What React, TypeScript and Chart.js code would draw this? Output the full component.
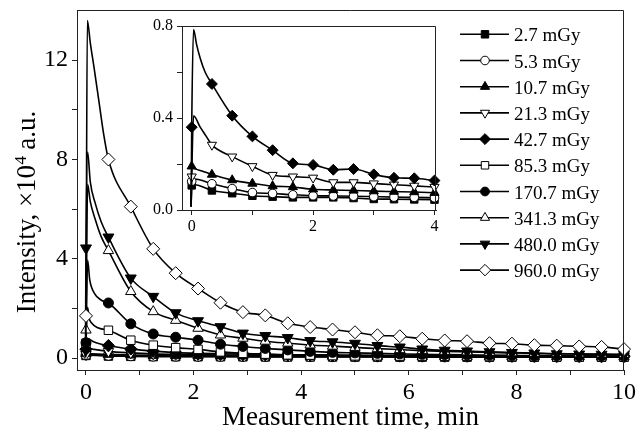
import React, { useEffect, useRef } from 'react';
import { Chart, registerables } from 'chart.js';
import { drawPoint } from 'chart.js/helpers';

Chart.register(...registerables);

const FONT = "'Liberation Serif', 'Times New Roman', serif";

// ---------- data ----------
const SERIES_LABELS = ['2.7 mGy', '5.3 mGy', '10.7 mGy', '21.3 mGy', '42.7 mGy', '85.3 mGy', '170.7 mGy', '341.3 mGy', '480.0 mGy', '960.0 mGy'];

// tick positions and the ones that carry a label
const MAIN_X_TICKS = [0, 1, 2, 3, 4, 5, 6, 7, 8, 9, 10];
const MAIN_X_LABELS = [0, 2, 4, 6, 8, 10];
const MAIN_Y_TICKS = [0, 2, 4, 6, 8, 10, 12];
const MAIN_Y_LABELS = [0, 4, 8, 12];
const INSET_X_TICKS = [0, 1, 2, 3, 4];
const INSET_X_LABELS = [0, 2, 4];
const INSET_Y_TICKS = [0, 0.2, 0.4, 0.6, 0.8];
const INSET_Y_LABELS = [0, 0.4, 0.8];

// marker times of the main panel (min)
const MAIN_TIMES = [0, 0.417, 0.833, 1.25, 1.667, 2.083, 2.5, 2.917, 3.333, 3.75, 4.167, 4.583, 5, 5.417, 5.833, 6.25, 6.667, 7.083, 7.5, 7.917, 8.333, 8.75, 9.167, 9.583, 10];

const main2_7 = [0.107, 0.083, 0.07, 0.06, 0.057, 0.055, 0.054, 0.052, 0.048, 0.047, 0.046, 0.045, 0.044, 0.043, 0.042, 0.041, 0.04, 0.04, 0.039, 0.038, 0.038, 0.037, 0.036, 0.036, 0.035];
const main5_3 = [0.125, 0.11, 0.09, 0.075, 0.07, 0.065, 0.062, 0.06, 0.058, 0.056, 0.055, 0.053, 0.052, 0.05, 0.05, 0.048, 0.047, 0.046, 0.045, 0.045, 0.044, 0.043, 0.042, 0.042, 0.04];
const main10_7 = [0.19, 0.15, 0.125, 0.11, 0.1, 0.095, 0.088, 0.085, 0.082, 0.08, 0.077, 0.075, 0.072, 0.07, 0.068, 0.066, 0.064, 0.062, 0.06, 0.06, 0.058, 0.056, 0.055, 0.054, 0.053];
const main21_3 = [0.145, 0.27, 0.21, 0.17, 0.15, 0.142, 0.125, 0.12, 0.115, 0.11, 0.1, 0.1, 0.095, 0.09, 0.09, 0.085, 0.08, 0.08, 0.075, 0.075, 0.07, 0.07, 0.07, 0.065, 0.065];
const main42_7 = [0.36, 0.5, 0.37, 0.28, 0.22, 0.19, 0.175, 0.16, 0.145, 0.135, 0.13, 0.125, 0.12, 0.115, 0.11, 0.105, 0.1, 0.1, 0.095, 0.09, 0.09, 0.085, 0.085, 0.08, 0.08];
const main85_3 = [0.6, 1.12, 0.72, 0.52, 0.42, 0.35, 0.25, 0.19, 0.16, 0.13, 0.12, 0.1, 0.09, 0.09, 0.08, 0.08, 0.07, 0.07, 0.06, 0.06, 0.06, 0.05, 0.05, 0.05, 0.05];
const main170_7 = [0.62, 2.22, 1.38, 0.97, 0.84, 0.72, 0.56, 0.47, 0.39, 0.33, 0.27, 0.23, 0.21, 0.19, 0.17, 0.15, 0.14, 0.13, 0.12, 0.11, 0.1, 0.1, 0.09, 0.09, 0.08];
const main341_3 = [1.13, 4.33, 2.68, 1.87, 1.52, 1.2, 0.93, 0.8, 0.68, 0.6, 0.53, 0.48, 0.43, 0.38, 0.34, 0.3, 0.27, 0.25, 0.23, 0.21, 0.19, 0.18, 0.17, 0.16, 0.15];
const main480 = [4.43, 4.87, 3.22, 2.48, 1.82, 1.5, 1.26, 1.0, 0.9, 0.82, 0.7, 0.65, 0.59, 0.5, 0.44, 0.36, 0.31, 0.28, 0.25, 0.22, 0.2, 0.17, 0.16, 0.15, 0.14];
const main960 = [1.7, 8.0, 6.1, 4.4, 3.42, 2.8, 2.23, 1.85, 1.72, 1.4, 1.25, 1.15, 1.04, 0.92, 0.88, 0.78, 0.71, 0.68, 0.6, 0.58, 0.52, 0.5, 0.47, 0.45, 0.36];

// readings of the curves between markers (rise and early decay), [t, value]
const rise2_7 = [[-0.01, 0.02], [0.04, 0.115]];
const rise5_3 = [[-0.01, 0.02], [0.04, 0.14]];
const rise10_7 = [[-0.01, 0.02], [0.04, 0.18]];
const rise21_3 = [[-0.01, 0.02], [0.03, 0.41], [0.15, 0.35]];
const rise42_7 = [[-0.01, 0.02], [0.03, 0.78], [0.14, 0.66], [0.25, 0.58]];
const rise85_3 = [[-0.01, 0.05], [0.03, 2.05], [0.06, 1.6], [0.1, 1.42], [0.22, 1.22]];
const rise170_7 = [[-0.01, 0.05], [0.03, 3.95], [0.07, 3.15], [0.16, 2.6], [0.28, 2.34]];
const rise341_3 = [[-0.01, 0.1], [0.03, 7.0], [0.08, 6.3], [0.17, 5.6], [0.28, 4.9]];
const rise480 = [[-0.01, 0.1], [0.03, 8.3], [0.08, 7.1], [0.17, 6.25], [0.28, 5.5]];
const rise960 = [[-0.01, 0.1], [0.025, 13.6], [0.08, 12.7], [0.15, 11.7], [0.25, 10.2], [0.33, 9.0]];

// inset panel (marker times every 20 s)
const INSET_TIMES = [0, 0.333, 0.667, 1, 1.333, 1.667, 2, 2.333, 2.667, 3, 3.333, 3.667, 4];
const inset2_7 = [0.107, 0.085, 0.073, 0.062, 0.058, 0.055, 0.055, 0.055, 0.052, 0.048, 0.047, 0.046, 0.045];
const inset5_3 = [0.125, 0.114, 0.093, 0.076, 0.072, 0.066, 0.062, 0.061, 0.06, 0.058, 0.056, 0.055, 0.053];
const inset10_7 = [0.19, 0.154, 0.13, 0.115, 0.104, 0.1, 0.09, 0.087, 0.085, 0.082, 0.08, 0.078, 0.075];
const inset21_3 = [0.145, 0.283, 0.232, 0.19, 0.152, 0.145, 0.14, 0.12, 0.12, 0.115, 0.11, 0.105, 0.1];
const inset42_7 = [0.36, 0.548, 0.41, 0.32, 0.26, 0.203, 0.196, 0.175, 0.178, 0.155, 0.14, 0.138, 0.128];
const insetRise2_7 = [[-0.01, 0.015], [0.05, 0.11]];
const insetRise5_3 = [[-0.01, 0.015], [0.05, 0.135]];
const insetRise10_7 = [[-0.01, 0.015], [0.05, 0.18], [0.17, 0.17]];
const insetRise21_3 = [[-0.01, 0.015], [0.03, 0.41], [0.14, 0.36], [0.24, 0.32]];
const insetRise42_7 = [[-0.01, 0.015], [0.03, 0.785], [0.08, 0.72], [0.14, 0.66], [0.22, 0.6]];

const MAIN_VALUES = [main2_7, main5_3, main10_7, main21_3, main42_7, main85_3, main170_7, main341_3, main480, main960];
const MAIN_RISES = [rise2_7, rise5_3, rise10_7, rise21_3, rise42_7, rise85_3, rise170_7, rise341_3, rise480, rise960];
const INSET_VALUES = [inset2_7, inset5_3, inset10_7, inset21_3, inset42_7];
const INSET_RISES = [insetRise2_7, insetRise5_3, insetRise10_7, insetRise21_3, insetRise42_7];

// ---------- styles ----------
const MARKERS = [
  { style: 'rect', filled: true, rotation: 0, size: 6 },
  { style: 'circle', filled: false, rotation: 0, size: 4.9 },
  { style: 'triangle', filled: true, rotation: 0, size: 6 },
  { style: 'triangle', filled: false, rotation: 180, size: 6 },
  { style: 'rectRot', filled: true, rotation: 0, size: 6.2 },
  { style: 'rect', filled: false, rotation: 0, size: 6 },
  { style: 'circle', filled: true, rotation: 0, size: 5 },
  { style: 'triangle', filled: false, rotation: 0, size: 6 },
  { style: 'triangle', filled: true, rotation: 180, size: 6.3 },
  { style: 'rectRot', filled: false, rotation: 0, size: 6.5 },
];
const AXIS_COLOR = '#222';
const LINE_WIDTH = 1.6;

function buildPoints(times: number[], values: number[], extra: number[][]) {
  const pts: any[] = times.map((t, i) => ({ x: t, y: values[i], m: 1 }));
  extra.forEach(([x, y]) => pts.push({ x, y, m: 0 }));
  pts.sort((a, b) => a.x - b.x);
  return pts;
}

function makeDatasets(times: number[], values: number[][], rises: number[][][], scale: number) {
  return values.map((vals, i) => {
    const mk = MARKERS[i];
    const r = mk.size * scale;
    return {
      label: SERIES_LABELS[i],
      data: buildPoints(times, vals, rises[i]),
      order: values.length - i,
      borderColor: '#000',
      borderWidth: LINE_WIDTH,
      backgroundColor: mk.filled ? '#000' : '#fff',
      pointStyle: mk.style,
      pointRotation: mk.rotation,
      pointRadius: (c: any) => (c.raw && c.raw.m ? r : 0),
      pointHoverRadius: (c: any) => (c.raw && c.raw.m ? r : 0),
      pointBackgroundColor: mk.filled ? '#000' : '#fff',
      pointBorderColor: '#000',
      pointBorderWidth: 1,
      cubicInterpolationMode: 'monotone',
      fill: false,
      clip: false,
    };
  });
}

const framePlugin = {
  id: 'frameLines',
  afterDraw(chart: any) {
    const { ctx, chartArea } = chart;
    const l = Math.round(chartArea.left);
    const r = Math.round(chartArea.right) - 0.5;
    const t = Math.round(chartArea.top) + 0.5;
    const b = Math.round(chartArea.bottom);
    ctx.save();
    ctx.strokeStyle = AXIS_COLOR;
    ctx.lineWidth = 1;
    ctx.beginPath();
    ctx.moveTo(l, t);
    ctx.lineTo(r, t);
    ctx.lineTo(r, b);
    ctx.stroke();
    ctx.restore();
  },
};

const LEGEND = { top: 34.3, step: 26.2, x1: 460, x2: 509, xm: 485, xt: 514, font: 19 };

const legendPlugin = {
  id: 'doseLegend',
  afterDraw(chart: any) {
    const { ctx } = chart;
    ctx.save();
    SERIES_LABELS.forEach((label, i) => {
      const y = LEGEND.top + i * LEGEND.step;
      ctx.strokeStyle = '#000';
      ctx.lineWidth = LINE_WIDTH;
      ctx.beginPath();
      ctx.moveTo(LEGEND.x1, y);
      ctx.lineTo(LEGEND.x2, y);
      ctx.stroke();
      const mk = MARKERS[i];
      ctx.fillStyle = mk.filled ? '#000' : '#fff';
      ctx.strokeStyle = '#000';
      ctx.lineWidth = 1;
      drawPoint(ctx, { pointStyle: mk.style, rotation: mk.rotation, radius: mk.size * 0.88, borderWidth: 1 } as any, LEGEND.xm, y);
      ctx.fillStyle = '#000';
      ctx.font = `${LEGEND.font}px ${FONT}`;
      ctx.textAlign = 'left';
      ctx.textBaseline = 'alphabetic';
      ctx.fillText(label, LEGEND.xt, y + 7);
    });
    ctx.restore();
  },
};

const yTitlePlugin = {
  id: 'yTitle',
  afterDraw(chart: any) {
    const { ctx, chartArea } = chart;
    const p1 = 'Intensity, ×10';
    const sup = '4';
    const p3 = ' a.u.';
    ctx.save();
    ctx.translate(35, (chartArea.top + chartArea.bottom) / 2 + 22);
    ctx.rotate(-Math.PI / 2);
    ctx.fillStyle = '#000';
    ctx.textAlign = 'left';
    ctx.textBaseline = 'alphabetic';
    ctx.font = `27px ${FONT}`;
    const w1 = ctx.measureText(p1).width;
    const w3 = ctx.measureText(p3).width;
    ctx.font = `17px ${FONT}`;
    const w2 = ctx.measureText(sup).width;
    const x0 = -(w1 + w2 + w3) / 2;
    ctx.font = `27px ${FONT}`;
    ctx.fillText(p1, x0, 0);
    ctx.fillText(p3, x0 + w1 + w2, 0);
    ctx.font = `17px ${FONT}`;
    ctx.fillText(sup, x0 + w1 + 0.5, -9);
    ctx.restore();
  },
};

function axisCommon(fontSize: number, tickLen: number) {
  return {
    grid: { display: true, drawOnChartArea: false, drawTicks: true, tickLength: tickLen, color: AXIS_COLOR, lineWidth: 1 },
    border: { display: true, color: AXIS_COLOR, width: 1 },
    ticks: { font: { family: FONT, size: fontSize }, color: '#000', autoSkip: false, maxRotation: 0 },
  };
}

const isIn = (list: number[], v: number) => list.some((t) => Math.abs(t - v) < 1e-6);
const setTicks = (list: number[]) => (s: any) => {
  s.ticks = list.map((v) => ({ value: v }));
};

function mainConfig(): any {
  const xc = axisCommon(24, 5);
  const yc = axisCommon(24, 5);
  return {
    type: 'line',
    data: { datasets: makeDatasets(MAIN_TIMES, MAIN_VALUES, MAIN_RISES, 1) },
    options: {
      responsive: false,
      animation: false,
      devicePixelRatio: 1,
      events: [],
      layout: { padding: { left: 0, right: 13, top: 10, bottom: 0 } },
      plugins: { legend: { display: false }, tooltip: { enabled: false }, title: { display: false } },
      scales: {
        x: {
          type: 'linear',
          min: -0.167,
          max: 10,
          ...xc,
          ticks: { ...xc.ticks, padding: 3, callback: (v: number) => (isIn(MAIN_X_LABELS, v) ? String(v) : '') },
          afterBuildTicks: setTicks(MAIN_X_TICKS),
          title: { display: true, text: 'Measurement time, min', font: { family: FONT, size: 27 }, color: '#000', padding: { top: 0, bottom: 5 } },
          afterFit: (s: any) => {
            s.height = 69;
            s.paddingLeft = 0;
            s.paddingRight = 0;
          },
        },
        y: {
          type: 'linear',
          min: -0.48,
          max: 14.02,
          ...yc,
          ticks: { ...yc.ticks, padding: 4, callback: (v: number) => (isIn(MAIN_Y_LABELS, v) ? String(v) : '') },
          afterBuildTicks: setTicks(MAIN_Y_TICKS),
          title: { display: false },
          afterFit: (s: any) => {
            s.width = 77;
            s.paddingTop = 0;
            s.paddingBottom = 0;
          },
        },
      },
    },
    plugins: [framePlugin, legendPlugin, yTitlePlugin],
  };
}

function insetConfig(): any {
  const xc = axisCommon(16, 5);
  const yc = axisCommon(16, 5);
  return {
    type: 'line',
    data: { datasets: makeDatasets(INSET_TIMES, INSET_VALUES, INSET_RISES, 0.88) },
    options: {
      responsive: false,
      animation: false,
      devicePixelRatio: 1,
      events: [],
      layout: { padding: { left: 0, right: 9, top: 11, bottom: 0 } },
      plugins: { legend: { display: false }, tooltip: { enabled: false }, title: { display: false } },
      scales: {
        x: {
          type: 'linear',
          min: -0.16,
          max: 4.025,
          ...xc,
          ticks: { ...xc.ticks, padding: 2, callback: (v: number) => (isIn(INSET_X_LABELS, v) ? String(v) : '') },
          afterBuildTicks: setTicks(INSET_X_TICKS),
          afterFit: (s: any) => {
            s.height = 40;
            s.paddingLeft = 0;
            s.paddingRight = 0;
          },
        },
        y: {
          type: 'linear',
          min: 0,
          max: 0.8,
          ...yc,
          ticks: { ...yc.ticks, padding: 4, callback: (v: number) => (isIn(INSET_Y_LABELS, v) ? v.toFixed(1) : '') },
          afterBuildTicks: setTicks(INSET_Y_TICKS),
          afterFit: (s: any) => {
            s.width = 42;
            s.paddingTop = 0;
            s.paddingBottom = 0;
          },
        },
      },
    },
    plugins: [framePlugin],
  };
}

export default function App() {
  const mainRef = useRef<HTMLCanvasElement>(null);
  const insetRef = useRef<HTMLCanvasElement>(null);
  useEffect(() => {
    const main = new Chart(mainRef.current as HTMLCanvasElement, mainConfig());
    const inset = new Chart(insetRef.current as HTMLCanvasElement, insetConfig());
    return () => {
      main.destroy();
      inset.destroy();
    };
  }, []);
  return (
    <div style={{ position: 'absolute', left: 0, top: 0, width: 637, height: 439, background: '#fff', overflow: 'hidden' }}>
      <canvas ref={mainRef} width={637} height={439} style={{ position: 'absolute', left: 0, top: 0, width: 637, height: 439 }} />
      <canvas ref={insetRef} width={305} height={235} style={{ position: 'absolute', left: 140, top: 15, width: 305, height: 235 }} />
    </div>
  );
}
